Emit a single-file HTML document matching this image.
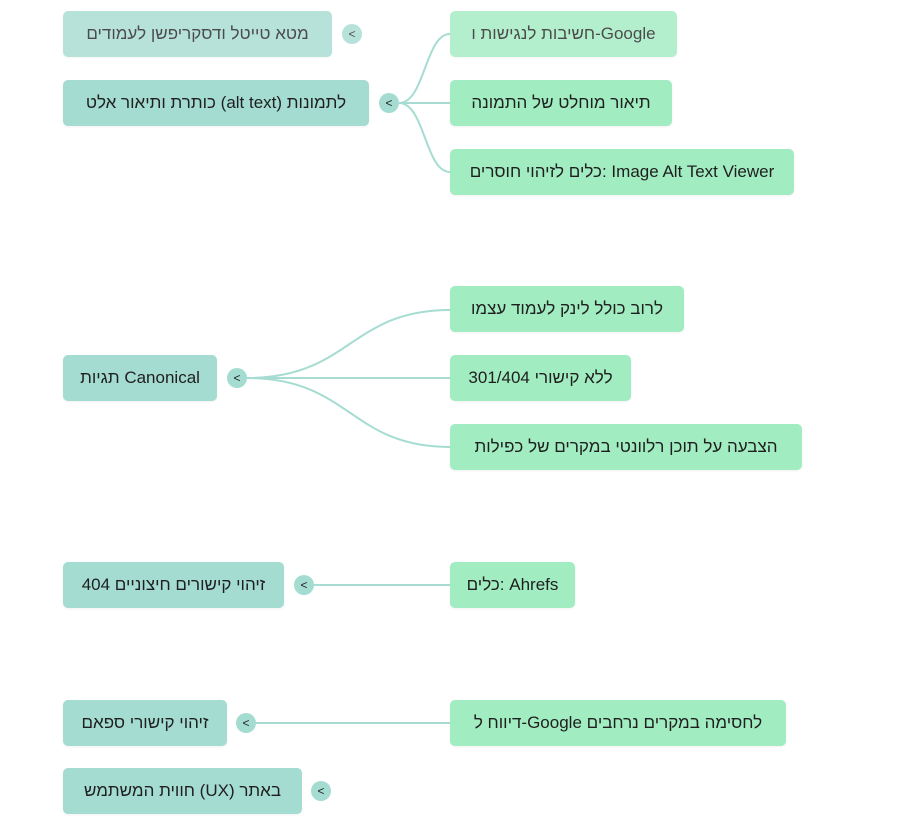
<!DOCTYPE html>
<html><head><meta charset="utf-8"><style>
body{margin:0;width:902px;height:835px;background:#fff;position:relative;overflow:hidden;font-family:"Liberation Sans","DejaVu Sans",sans-serif;}
.n{position:absolute;height:46px;line-height:46px;border-radius:5px;color:#1f1f1f;font-size:17px;text-align:center;white-space:nowrap;box-shadow:0 1px 2px rgba(0,0,0,0.06);}
.l{background:#a4dcd1;}
.r{background:#a1ecc1;}
.t{position:absolute;width:20px;height:20px;border-radius:50%;background:#a4dcd1;font-size:12px;line-height:20px;text-align:center;color:#222;}
svg{position:absolute;left:0;top:0;}
</style></head><body>
<svg width="902" height="835" fill="none" stroke="#a6dcd2" stroke-width="2">
<path d="M399 103 C425 103,425 34,450 34"/>
<path d="M399 103 L450 103"/>
<path d="M399 103 C425 103,425 172,450 172"/>
<path d="M247 378 C350 378,350 310,450 310"/>
<path d="M247 378 L450 378"/>
<path d="M247 378 C350 378,350 447,450 447"/>
<path d="M314 585 L450 585"/>
<path d="M256 723 L450 723"/>
</svg>
<div style="opacity:0.8">
<div class="n l" style="left:63px;top:11px;width:269px">מטא טייטל ודסקריפשן לעמודים</div>
<div class="t" style="left:342px;top:24px">&lt;</div>
<div class="n r" style="left:450px;top:11px;width:227px">חשיבות לנגישות ו-Google</div>
</div>
<div class="n l" style="left:63px;top:80px;width:306px">כותרת ותיאור אלט (alt text) לתמונות</div>
<div class="t" style="left:379px;top:93px">&lt;</div>
<div class="n r" style="left:450px;top:80px;width:222px">תיאור מוחלט של התמונה</div>
<div class="n r" style="left:450px;top:149px;width:344px">כלים לזיהוי חוסרים: Image Alt Text Viewer</div>

<div class="n l" style="left:63px;top:355px;width:154px">תגיות Canonical</div>
<div class="t" style="left:227px;top:368px">&lt;</div>
<div class="n r" style="left:450px;top:286px;width:234px">לרוב כולל לינק לעמוד עצמו</div>
<div class="n r" style="left:450px;top:355px;width:181px">ללא קישורי 301/404</div>
<div class="n r" style="left:450px;top:424px;width:352px">הצבעה על תוכן רלוונטי במקרים של כפילות</div>

<div class="n l" style="left:63px;top:562px;width:221px">זיהוי קישורים חיצוניים 404</div>
<div class="t" style="left:294px;top:575px">&lt;</div>
<div class="n r" style="left:450px;top:562px;width:125px">כלים: Ahrefs</div>

<div class="n l" style="left:63px;top:700px;width:164px">זיהוי קישורי ספאם</div>
<div class="t" style="left:236px;top:713px">&lt;</div>
<div class="n r" style="left:450px;top:700px;width:336px">דיווח ל-Google לחסימה במקרים נרחבים</div>

<div class="n l" style="left:63px;top:768px;width:239px">חווית המשתמש (UX) באתר</div>
<div class="t" style="left:311px;top:781px">&lt;</div>
</body></html>
